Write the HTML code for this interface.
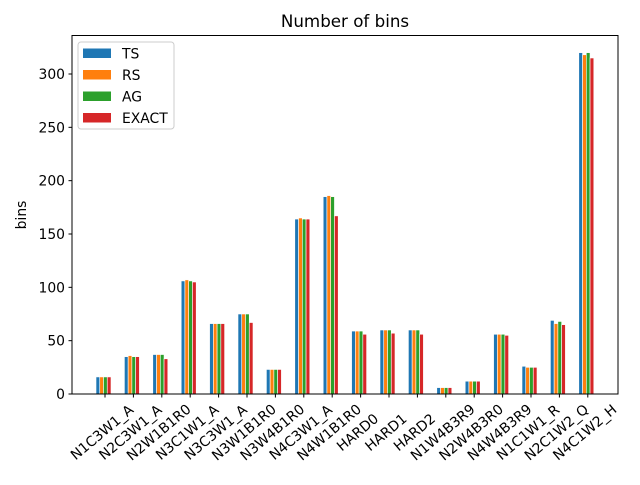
<!DOCTYPE html>
<html><head><meta charset="utf-8"><style>
body{margin:0;background:#fff}
text{font-family:"DejaVu Sans","Liberation Sans",sans-serif;fill:#000}
</style></head><body>
<svg id="chart" width="640" height="480" xmlns="http://www.w3.org/2000/svg">
<rect width="640" height="480" fill="#fff"/>
<text x="345" y="27" font-size="16.7" text-anchor="middle">Number of bins</text>
<text transform="translate(26,215) rotate(-90)" font-size="13.9" text-anchor="middle">bins</text>
<g id="bars"></g>
<g id="yticks"></g>
<g id="xticks"></g>
<rect x="72" y="35.5" width="546" height="358.5" fill="none" stroke="#000" stroke-width="1"/>
<g id="legend">
<rect x="78" y="42" width="96" height="87" rx="3" fill="#fff" fill-opacity="0.8" stroke="#ccc"/>
</g>
</svg>
<script>
const categories=["N1C3W1_A","N2C3W1_A","N2W1B1R0","N3C1W1_A","N3C3W1_A","N3W1B1R0","N3W4B1R0","N4C3W1_A","N4W1B1R0","HARD0","HARD1","HARD2","N1W4B3R9","N2W4B3R0","N4W4B3R9","N1C1W1_R","N2C1W2_Q","N4C1W2_H"];
const tsValues=[16,35,37,106,66,75,23,164,185,59,60,60,6,12,56,26,69,320];
const rsValues=[16,36,37,107,66,75,23,165,186,59,60,60,6,12,56,25,66,318];
const agValues=[16,35,37,106,66,75,23,164,185,59,60,60,6,12,56,25,68,320];
const exactValues=[16,35,33,105,66,67,23,164,167,56,57,56,6,12,55,25,65,315];
const seriesNames=["TS","RS","AG","EXACT"];
const yTicks=[0,50,100,150,200,250,300];
const colors=["#1f77b4","#ff7f0e","#2ca02c","#d62728"];
const NS="http://www.w3.org/2000/svg";
function y(v){return 394-v*1.0667;}
function x(i){return 105+i*28.4;}
function el(t,a,p){const e=document.createElementNS(NS,t);for(const k in a)e.setAttribute(k,a[k]);p.appendChild(e);return e;}
const series=[tsValues,rsValues,agValues,exactValues];
const gb=document.getElementById('bars');
series.forEach((vals,k)=>{vals.forEach((v,i)=>{
 const r=el('rect',{x:x(i)-9+3.75*k,y:y(v),width:3.75,height:394-y(v),fill:colors[k],stroke:'#fff','stroke-width':0.6},gb);
 
 
});});
const gy=document.getElementById('yticks');
yTicks.forEach(t=>{
 el('line',{x1:68.5,x2:72,y1:y(t),y2:y(t),stroke:'#000'},gy);
 const tx=el('text',{x:65,y:y(t)+5,'font-size':13.9,'text-anchor':'end'},gy);tx.textContent=t;
 
 
});
const gx=document.getElementById('xticks');
categories.forEach((c,i)=>{
 el('line',{x1:x(i),x2:x(i),y1:394,y2:397.5,stroke:'#000'},gx);
 const tx=el('text',{transform:`translate(${x(i)},436) rotate(-40)`,'font-size':13.9,'text-anchor':'middle'},gx);tx.textContent=c;
 
 
});
const gl=document.getElementById('legend');
seriesNames.forEach((n,k)=>{
 const yy=48.5+k*21.5;
 const r=el('rect',{x:83,y:yy,width:28,height:9.5,fill:colors[k]},gl);
 
 
 const t=el('text',{x:122,y:yy+10,'font-size':13.9},gl);t.textContent=n;
 
 
});
</script>
</body></html>
